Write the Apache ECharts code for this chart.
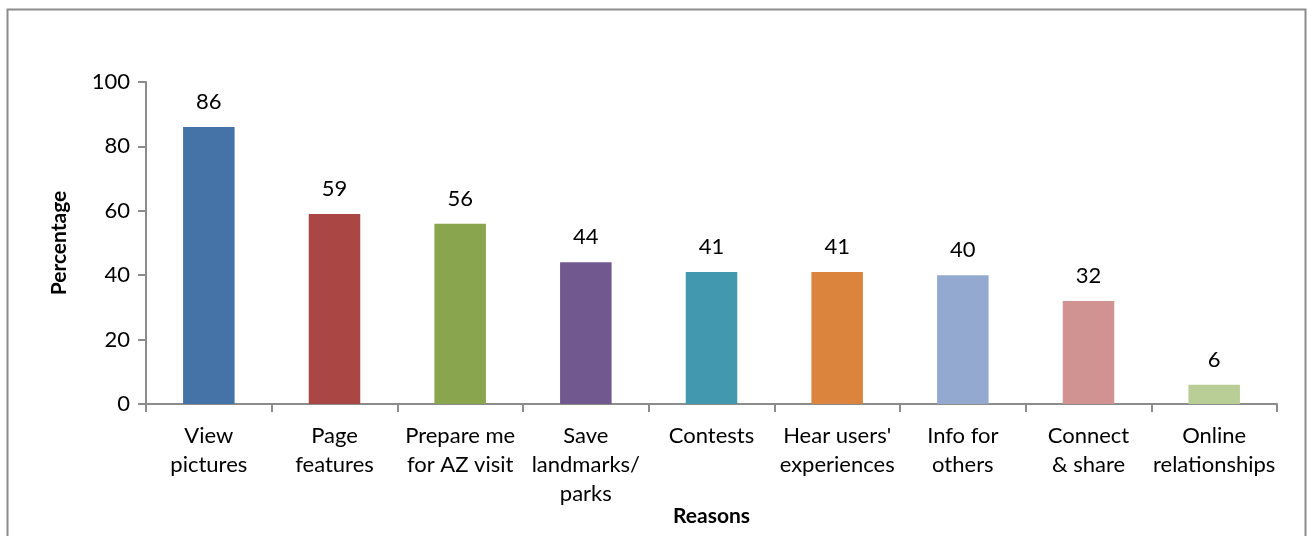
<!DOCTYPE html>
<html>
<head>
<meta charset="utf-8">
<script src="https://cdn.jsdelivr.net/npm/echarts@6/dist/echarts.min.js"></script>
<style>
  html, body { margin: 0; padding: 0; background: #fff; }
  #chart { width: 1308px; height: 536px; }
</style>
</head>
<body>
<div id="chart"></div>
<script>
// Reasons for visiting the page, percentage of respondents
const categories = [
  'View\npictures', 'Page\nfeatures', 'Prepare me\nfor AZ visit',
  'Save\nlandmarks/\nparks', 'Contests', "Hear users'\nexperiences",
  'Info for\nothers', 'Connect\n& share', 'Online\nrelationships'
];
const values = [86, 59, 56, 44, 41, 41, 40, 32, 6];
const barColors = ['#4572A7', '#AA4643', '#89A54E', '#71588F', '#4198AF',
                   '#DB843D', '#93A9CF', '#D19392', '#B9CD96'];
const yTicks = [0, 20, 40, 60, 80, 100];

const FONT = 'Lato, "Open Sans", sans-serif';
const chart = echarts.init(document.getElementById('chart'));

chart.setOption({
  animation: false,
  textStyle: { fontFamily: FONT },
  graphic: [{
    type: 'rect',
    shape: { x: 7.5, y: 9.5, width: 1298, height: 560 },
    style: { fill: 'none', stroke: '#8c8c8c', lineWidth: 2 },
    silent: true
  }],
  grid: { left: 146, right: 31, top: 82, bottom: 132, outerBoundsMode: 'none', containLabel: false },
  xAxis: {
    type: 'category',
    data: categories,
    name: 'Reasons',
    nameLocation: 'middle',
    nameGap: 102,
    nameMoveOverlap: false,
    nameTextStyle: { fontFamily: FONT, fontSize: 21, fontWeight: 'bold', color: '#000' },
    axisLine: { lineStyle: { color: '#8c8c8c', width: 2 } },
    axisTick: { show: true, length: 8, alignWithLabel: false, lineStyle: { color: '#8c8c8c', width: 2 } },
    axisLabel: { color: '#000', fontSize: 22, lineHeight: 29, margin: 17, interval: 0, fontFamily: FONT }
  },
  yAxis: {
    type: 'value',
    min: yTicks[0],
    max: yTicks[yTicks.length - 1],
    interval: 20,
    name: 'Percentage',
    nameLocation: 'middle',
    nameGap: 76,
    nameMoveOverlap: false,
    nameRotate: 90,
    nameTextStyle: { fontFamily: FONT, fontSize: 21, fontWeight: 'bold', color: '#000' },
    splitLine: { show: false },
    axisLine: { show: true, lineStyle: { color: '#8c8c8c', width: 2 } },
    axisTick: { show: true, length: 8, lineStyle: { color: '#8c8c8c', width: 2 } },
    axisLabel: { color: '#000', fontSize: 22, margin: 16, fontFamily: FONT }
  },
  series: [{
    type: 'bar',
    data: values.map((v, i) => ({ value: v, itemStyle: { color: barColors[i] } })),
    barWidth: '41%',
    label: {
      show: true,
      position: 'top',
      distance: 14,
      color: '#000',
      fontSize: 22,
      fontFamily: FONT
    }
  }]
});
</script>
</body>
</html>
